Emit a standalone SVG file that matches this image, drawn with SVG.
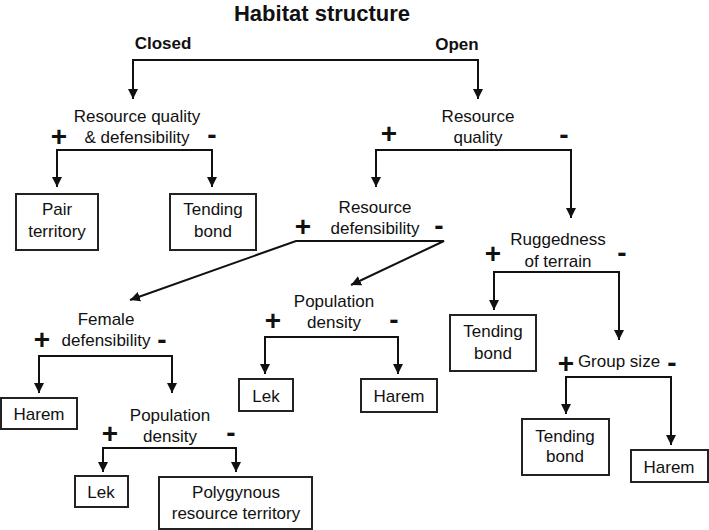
<svg xmlns="http://www.w3.org/2000/svg" width="709" height="530" viewBox="0 0 709 530">
<style>
.t{font-family:"Liberation Sans",Arial,sans-serif;font-size:17px;fill:#111;text-anchor:middle}
.b{font-weight:bold}
.s{font-family:"Liberation Sans",Arial,sans-serif;font-size:28px;font-weight:bold;fill:#111;text-anchor:middle}
.box{fill:#fff;stroke:#222;stroke-width:2}
.c{fill:none;stroke:#111;stroke-width:2;marker-start:url(#a);marker-end:url(#a)}
</style>
<defs>
<marker id="a" markerWidth="10" markerHeight="10" refX="10" refY="5" orient="auto-start-reverse" markerUnits="userSpaceOnUse"><path d="M0,0 L10,5 L0,10 z" fill="#111"/></marker>
</defs>
<rect width="709" height="530" fill="#fff"/>
<text class="t b" x="322" y="21" style="font-size:22px">Habitat structure</text>
<text class="t b" x="163" y="49">Closed</text>
<text class="t b" x="457" y="50">Open</text>
<g id="connectors">
<path class="c" d="M133,99 V60 H478 V99"/>
<path class="c" d="M57,187 V150 H212 V187"/>
<path class="c" d="M376,187 V150 H571 V218"/>
<path class="c" d="M130,300 L296,241 H444 L351,285"/>
<path class="c" d="M494,310 V272 H619 V340"/>
<path class="c" d="M566,414 V377 H671 V445"/>
<path class="c" d="M265,374 V337 H398 V374"/>
<path class="c" d="M39,393 V356 H172 V393"/>
<path class="c" d="M103,472 V448 H236 V472"/>
</g>
<g id="n-rqd">
<text class="t" x="137" y="122">Resource quality</text>
<text class="t" x="137" y="143">&amp; defensibility</text>
<text class="s" x="59" y="146">+</text>
<text class="s" x="212" y="144">-</text>
</g>
<g id="n-rq">
<text class="t" x="478" y="122">Resource</text>
<text class="t" x="478" y="143">quality</text>
<text class="s" x="389" y="143">+</text>
<text class="s" x="564" y="144">-</text>
</g>
<g id="n-pair">
<rect class="box" x="16" y="194" width="82" height="56"/>
<text class="t" x="57" y="215">Pair</text>
<text class="t" x="57" y="237">territory</text>
</g>
<g id="n-tb1">
<rect class="box" x="170" y="194" width="86" height="56"/>
<text class="t" x="213" y="215">Tending</text>
<text class="t" x="213" y="237">bond</text>
</g>
<g id="n-rd">
<text class="t" x="375" y="213">Resource</text>
<text class="t" x="375" y="234">defensibility</text>
<text class="s" x="303" y="236">+</text>
<text class="s" x="439" y="235">-</text>
</g>
<g id="n-rt">
<text class="t" x="558" y="245">Ruggedness</text>
<text class="t" x="558" y="267">of terrain</text>
<text class="s" x="493" y="263">+</text>
<text class="s" x="622" y="262">-</text>
</g>
<g id="n-fd">
<text class="t" x="106" y="325">Female</text>
<text class="t" x="106" y="346">defensibility</text>
<text class="s" x="42" y="349">+</text>
<text class="s" x="162" y="349">-</text>
</g>
<g id="n-pd1">
<text class="t" x="334" y="307">Population</text>
<text class="t" x="334" y="328">density</text>
<text class="s" x="273" y="330">+</text>
<text class="s" x="394" y="329">-</text>
</g>
<g id="n-tb2">
<rect class="box" x="450" y="315" width="86" height="56"/>
<text class="t" x="493" y="337">Tending</text>
<text class="t" x="493" y="359">bond</text>
</g>
<g id="n-lek1">
<rect class="box" x="239" y="379" width="54" height="32"/>
<text class="t" x="266" y="402">Lek</text>
</g>
<g id="n-harem1">
<rect class="box" x="361" y="379" width="76" height="33"/>
<text class="t" x="399" y="402">Harem</text>
</g>
<g id="n-gs">
<text class="t" x="619" y="367">Group size</text>
<text class="s" x="566" y="373">+</text>
<text class="s" x="672" y="372">-</text>
</g>
<g id="n-harem0">
<rect class="box" x="1" y="398" width="76" height="31"/>
<text class="t" x="39" y="420">Harem</text>
</g>
<g id="n-pd2">
<text class="t" x="170" y="421">Population</text>
<text class="t" x="170" y="442">density</text>
<text class="s" x="110" y="443">+</text>
<text class="s" x="231" y="442">-</text>
</g>
<g id="n-tb3">
<rect class="box" x="522" y="419" width="87" height="56"/>
<text class="t" x="565" y="442">Tending</text>
<text class="t" x="565" y="462">bond</text>
</g>
<g id="n-harem2">
<rect class="box" x="631" y="450" width="77" height="32"/>
<text class="t" x="669" y="473">Harem</text>
</g>
<g id="n-lek2">
<rect class="box" x="75" y="476" width="53" height="31"/>
<text class="t" x="101" y="498">Lek</text>
</g>
<g id="n-prt">
<rect class="box" x="159" y="477" width="153" height="52"/>
<text class="t" x="236" y="498">Polygynous</text>
<text class="t" x="236" y="519">resource territory</text>
</g>
</svg>
